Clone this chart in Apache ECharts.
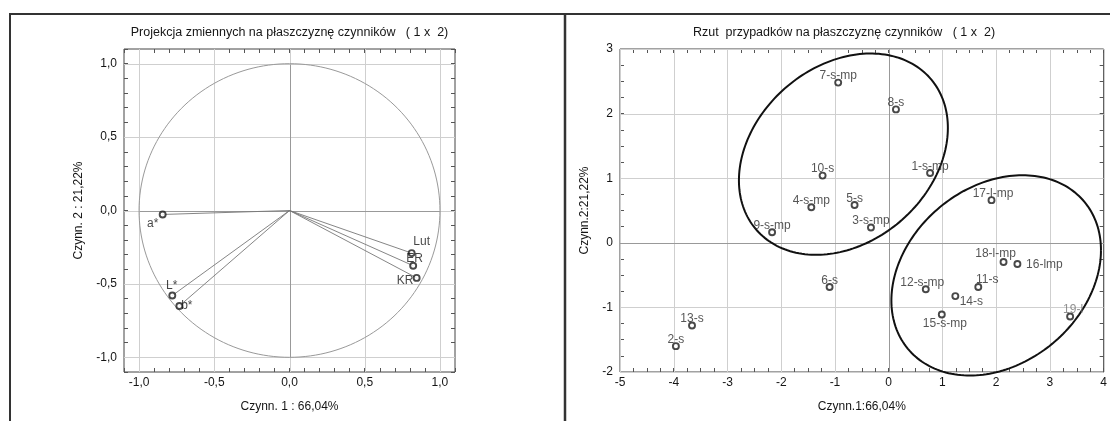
<!DOCTYPE html>
<html>
<head>
<meta charset="utf-8">
<title>Projekcja zmiennych / Rzut przypadków</title>
<script src="https://cdn.jsdelivr.net/npm/echarts@6/dist/echarts.min.js"></script>
<style>
    html, body { margin: 0; padding: 0; background: #fff; }
    #chart { width: 1110px; height: 421px; }
</style>
</head>
<body>
<div id="chart"></div>
<script>
// tick labels
const leftTicks = [-1.0, -0.5, 0.0, 0.5, 1.0];
const rightXTicks = [-5, -4, -3, -2, -1, 0, 1, 2, 3, 4];
const rightYTicks = [-2, -1, 0, 1, 2, 3];

// zmienne (lewy wykres)
const varNames = ['a*', 'L*', 'b*', 'Lut', 'ER', 'KR'];
const varX = [-0.843, -0.779, -0.732, 0.812, 0.822, 0.845];
const varY = [-0.027, -0.579, -0.650, -0.290, -0.376, -0.459];

// przypadki (prawy wykres)
const caseNames = ['1-s-mp', '2-s', '3-s-mp', '4-s-mp', '5-s', '6-s', '7-s-mp', '8-s', '9-s-mp', '10-s',
    '11-s', '12-s-mp', '13-s', '14-s', '15-s-mp', '16-lmp', '17-l-mp', '18-l-mp', '19-l'];
const caseX = [0.77, -3.96, -0.33, -1.44, -0.635, -1.10, -0.94, 0.135, -2.17, -1.23,
    1.667, 0.69, -3.66, 1.24, 0.988, 2.395, 1.913, 2.137, 3.376];
const caseY = [1.08, -1.60, 0.236, 0.55, 0.586, -0.685, 2.48, 2.065, 0.163, 1.04,
    -0.685, -0.72, -1.28, -0.825, -1.109, -0.329, 0.66, -0.298, -1.14];

// elipsy: środek, promienie, korelacja
const ellipseCenterX = [-0.843, 2.0];
const ellipseCenterY = [1.372, -0.504];
const ellipseRx = [1.944, 1.95];
const ellipseRy = [1.558, 1.55];
const ellipseRho = [0.261, 0.252];

// przesunięcia etykiet (px)
const leftLabelOffset = {
    'a*': [-10, 9], 'L*': [-0.5, -9.5], 'b*': [7.5, 0],
    'Lut': [10, -11], 'ER': [1.5, -7.5], 'KR': [-11.5, 3]
};
const rightLabelOffset = {
    '16-lmp': [27, 1], '11-s': [9, -7.5], '14-s': [16, 6], '15-s-mp': [3, 9.5],
    '18-l-mp': [-8, -8.5], '12-s-mp': [-3.5, -7], '19-l': [3, -7], '17-l-mp': [1.5, -6]
};

const FONT = '"Liberation Sans", Arial, sans-serif';
const TXT = '#151515';

function isTick(list, v) {
    return list.some(function (t) { return Math.abs(t - v) < 1e-6; });
}

function valueAxis(gridIndex, position, min, max, interval, ticks, fmt) {
    return {
        type: 'value',
        gridIndex: gridIndex,
        position: position,
        min: min,
        max: max,
        interval: interval,
        axisLine: { show: false, onZero: false },
        axisTick: { show: true, inside: true, length: 4, lineStyle: { color: '#555', width: 1 } },
        splitLine: { show: false },
        axisLabel: {
            show: !!fmt,
            margin: position === 'bottom' ? 5 : 7,
            color: TXT,
            fontSize: 12,
            fontFamily: FONT,
            formatter: function (v) { return isTick(ticks, v) ? fmt(v) : ''; }
        }
    };
}

const commaFmt = function (v) { return v.toFixed(1).replace('.', ','); };
const intFmt = function (v) { return String(Math.round(v)); };

const xLeft = valueAxis(0, 'bottom', -1.1, 1.1, 0.1, leftTicks, commaFmt);
xLeft.name = 'Czynn. 1 : 66,04%';
const yLeft = valueAxis(0, 'left', -1.1, 1.1, 0.1, leftTicks, commaFmt);
yLeft.name = 'Czynn. 2 : 21,22%';
const xRight = valueAxis(1, 'bottom', -5, 4, 0.25, rightXTicks, intFmt);
xRight.name = 'Czynn.1:66,04%';
const yRight = valueAxis(1, 'left', -2, 3, 0.25, rightYTicks, intFmt);
yRight.name = 'Czynn.2:21,22%';

[xLeft, xRight].forEach(function (a) {
    a.nameLocation = 'middle';
    a.nameGap = 29;
    a.nameTextStyle = { color: TXT, fontSize: 12, fontFamily: FONT };
});
yLeft.nameLocation = 'middle';
yLeft.nameGap = 39;
yRight.nameLocation = 'middle';
yRight.nameGap = 29;
[yLeft, yRight].forEach(function (a) {
    a.nameTextStyle = { color: TXT, fontSize: 12, fontFamily: FONT };
});

// siatka + linie zerowe (+ okrąg na lewym wykresie)
function gridRenderer(xTicks, yTicks, circle) {
    return function (params, api) {
        const kids = [];
        const cs = params.coordSys;
        const x0 = cs.x, x1 = cs.x + cs.width, y0 = cs.y, y1 = cs.y + cs.height;
        const snap = function (v) { return Math.round(v) + 0.5; };
        function seg(a, b, color) {
            kids.push({ type: 'line', shape: { x1: a[0], y1: a[1], x2: b[0], y2: b[1] },
                style: { stroke: color, lineWidth: 1 } });
        }
        xTicks.forEach(function (t) {
            const x = snap(api.coord([t, 0])[0]);
            seg([x, y0], [x, y1], '#cfcfcf');
        });
        yTicks.forEach(function (t) {
            const y = snap(api.coord([0, t])[1]);
            seg([x0, y], [x1, y], '#cfcfcf');
        });
        const o = api.coord([0, 0]);
        const ox = snap(o[0]), oy = snap(o[1]);
        if (circle) {
            seg([snap(api.coord([-1, 0])[0]), oy], [snap(api.coord([1, 0])[0]), oy], '#999');
            seg([ox, snap(api.coord([0, -1])[1])], [ox, snap(api.coord([0, 1])[1])], '#999');
            const pts = [];
            for (let i = 0; i <= 180; i++) {
                const a = i / 180 * Math.PI * 2;
                pts.push(api.coord([Math.cos(a), Math.sin(a)]));
            }
            kids.push({ type: 'polyline', shape: { points: pts },
                style: { stroke: '#999', lineWidth: 1, fill: null } });
        } else {
            seg([ox, y0], [ox, y1], '#999');
            seg([x0, oy], [x1, oy], '#999');
        }
        return { type: 'group', children: kids };
    };
}

const option = {
    backgroundColor: '#fff',
    animation: false,
    grid: [
        { left: 124, top: 49, width: 331, height: 323, show: true, borderColor: '#444', borderWidth: 1, backgroundColor: 'transparent' },
        { left: 620, top: 49, width: 486, height: 323, show: true, borderColor: '#444', borderWidth: 1, backgroundColor: 'transparent' }
    ],
    xAxis: [
        xLeft,
        valueAxis(0, 'top', -1.1, 1.1, 0.1, leftTicks, null),
        xRight,
        valueAxis(1, 'top', -5, 4, 0.25, rightXTicks, null)
    ],
    yAxis: [
        yLeft,
        valueAxis(0, 'right', -1.1, 1.1, 0.1, leftTicks, null),
        yRight,
        valueAxis(1, 'right', -2, 3, 0.25, rightYTicks, null)
    ],
    graphic: [
        { type: 'line', shape: { x1: 9, y1: 14, x2: 1110, y2: 14 }, style: { stroke: '#333', lineWidth: 2 } },
        { type: 'line', shape: { x1: 10, y1: 13, x2: 10, y2: 421 }, style: { stroke: '#333', lineWidth: 2 } },
        { type: 'line', shape: { x1: 565, y1: 13, x2: 565, y2: 421 }, style: { stroke: '#333', lineWidth: 2.5 } },
        { type: 'text', x: 289.5, y: 33, style: { text: 'Projekcja zmiennych na płaszczyznę czynników   ( 1 x  2)',
            fill: TXT, font: '12.5px ' + FONT, textAlign: 'center', textVerticalAlign: 'middle' } },
        { type: 'text', x: 844, y: 33, style: { text: 'Rzut  przypadków na płaszczyznę czynników   ( 1 x  2)',
            fill: TXT, font: '12.5px ' + FONT, textAlign: 'center', textVerticalAlign: 'middle' } }
    ],
    series: [
        // lewy: siatka, okrąg
        {
            type: 'custom', xAxisIndex: 0, yAxisIndex: 0, z: 1, silent: true,
            data: [[0, 0]],
            renderItem: gridRenderer(leftTicks, leftTicks, true)
        },
        // lewy: wektory od środka
        {
            type: 'custom', xAxisIndex: 0, yAxisIndex: 0, z: 2, silent: true,
            data: varX.map(function (x, i) { return [x, varY[i]]; }),
            renderItem: function (params, api) {
                const o = api.coord([0, 0]);
                const p = api.coord([api.value(0), api.value(1)]);
                return { type: 'line', shape: { x1: o[0], y1: o[1], x2: p[0], y2: p[1] },
                    style: { stroke: '#777', lineWidth: 0.9 } };
            }
        },
        // lewy: punkty
        {
            type: 'scatter', xAxisIndex: 0, yAxisIndex: 0, z: 5,
            symbol: 'circle', symbolSize: 6,
            itemStyle: { color: '#fff', borderColor: '#1a1a1a', borderWidth: 1.9 },
            label: { show: true, position: 'inside', formatter: '{b}', color: TXT, fontSize: 12, fontFamily: FONT },
            data: varNames.map(function (n, i) {
                return { name: n, value: [varX[i], varY[i]], label: { offset: leftLabelOffset[n] || [0, -6.5] } };
            })
        },
        // prawy: siatka
        {
            type: 'custom', xAxisIndex: 2, yAxisIndex: 2, z: 1, silent: true,
            data: [[0, 0]],
            renderItem: gridRenderer(rightXTicks, rightYTicks, false)
        },
        // prawy: elipsy
        {
            type: 'custom', xAxisIndex: 2, yAxisIndex: 2, z: 3, silent: true,
            data: ellipseCenterX.map(function (cx, i) {
                return [cx, ellipseCenterY[i], ellipseRx[i], ellipseRy[i], ellipseRho[i]];
            }),
            renderItem: function (params, api) {
                const cx = api.value(0), cy = api.value(1), rx = api.value(2), ry = api.value(3), rho = api.value(4);
                const s = Math.sqrt(1 - rho * rho);
                const pts = [];
                for (let i = 0; i <= 200; i++) {
                    const t = i / 200 * Math.PI * 2;
                    pts.push(api.coord([cx + rx * Math.cos(t), cy + ry * (rho * Math.cos(t) + s * Math.sin(t))]));
                }
                return { type: 'polyline', shape: { points: pts }, style: { stroke: '#111', lineWidth: 2, fill: null } };
            }
        },
        // prawy: punkty
        {
            type: 'scatter', xAxisIndex: 2, yAxisIndex: 2, z: 5,
            symbol: 'circle', symbolSize: 6,
            itemStyle: { color: '#fff', borderColor: '#1a1a1a', borderWidth: 1.9 },
            label: { show: true, position: 'inside', formatter: '{b}', color: '#2a2a2a', fontSize: 12, fontFamily: FONT },
            data: caseNames.map(function (n, i) {
                const lab = { offset: rightLabelOffset[n] || [0, -6.5] };
                if (n === '19-l') lab.color = '#777';
                return { name: n, value: [caseX[i], caseY[i]], label: lab };
            })
        }
    ]
};

var myChart = echarts.init(document.getElementById('chart'));
myChart.setOption(option);
</script>
</body>
</html>
